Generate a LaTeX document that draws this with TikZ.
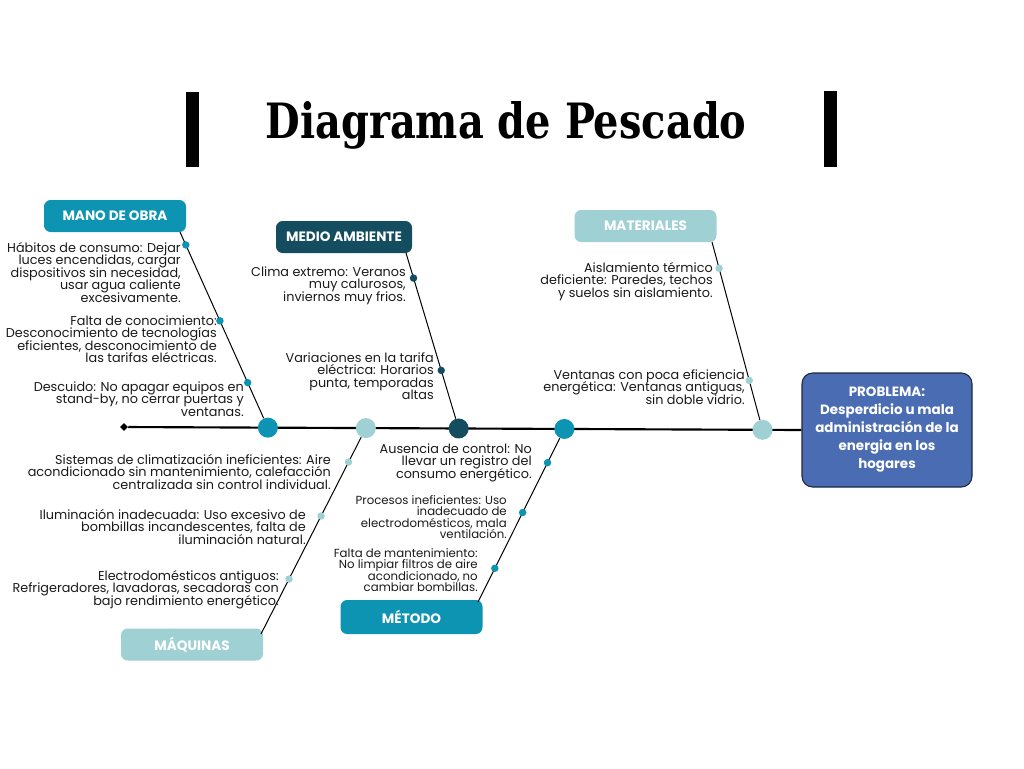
\documentclass[tikz,border=0pt]{standalone}
\usepackage{fontspec}
\setmainfont{Poppins}
\newfontfamily\titlefont[FakeStretch=0.82]{DejaVu Serif}
\usetikzlibrary{calc,shapes.geometric}
\definecolor{teal}{RGB}{12,148,178}
\definecolor{darkteal}{RGB}{20,76,96}
\definecolor{lightteal}{RGB}{158,208,212}
\definecolor{problue}{RGB}{74,108,178}
\definecolor{txtcol}{RGB}{25,25,25}
\newcommand\tightlines{\lineskiplimit=-20pt\relax\lineskip=0pt\relax}
\begin{document}
\begin{tikzpicture}[x=0.75pt,y=-0.75pt,
  hdr/.style={rounded corners=5pt, minimum width=106.5pt, minimum height=24pt, inner sep=0pt, text=white, font=\bfseries\fontsize{10.2}{11}\selectfont},
  txt/.style={align=right, inner sep=0pt, anchor=north east, text=txtcol, font=\fontsize{9.6}{9.4}\selectfont\tightlines},
  stxt/.style={txt, font=\fontsize{8.8}{8.6}\selectfont\tightlines},
  bigdot/.style={circle, minimum size=15pt, inner sep=0pt},
  smalldot/.style={circle, minimum size=5.6pt, inner sep=0pt},
  spine/.style={line width=1.6pt, black},
  bone/.style={line width=0.75pt, black}]
\useasboundingbox (0,0) rectangle (1024,768);
% title
\node[font=\titlefont\bfseries\fontsize{36.5}{37}\selectfont] (title) at (506,125) {Diagrama de Pescado};
\fill (186,92) rectangle (199,167);
\fill (824,91) rectangle (837,167);
% problem and spine
\node[draw={rgb,255:red,30;green,40;blue,60}, line width=0.8pt, fill=problue, rounded corners=8pt, minimum width=127.5pt, minimum height=85.5pt, align=center, text=white, font=\bfseries\fontsize{10.1}{13.5}\selectfont] (prob) at (887,430) {PROBLEMA:\\Desperdicio u mala\\administración de la\\energia en los\\hogares};
\node[diamond, fill=black, minimum size=6pt, inner sep=0pt] (tail) at (124,427) {};
\draw[spine] (tail) -- (prob.west);
\node[bigdot, fill=teal] (c1) at ($(tail)!0.2124!(prob.west)$) {};
\node[bigdot, fill=lightteal] (c2) at ($(tail)!0.357!(prob.west)$) {};
\node[bigdot, fill=darkteal] (c3) at ($(tail)!0.494!(prob.west)$) {};
\node[bigdot, fill=teal] (c4) at ($(tail)!0.65!(prob.west)$) {};
\node[bigdot, fill=lightteal] (c5) at ($(tail)!0.9425!(prob.west)$) {};
% headers
\node[hdr, fill=teal] (mob) at (115,216) {MANO DE OBRA};
\node[hdr, fill=darkteal, minimum width=102pt] (med) at (344,237) {MEDIO AMBIENTE};
\node[hdr, fill=lightteal] (mat) at (645.5,226) {MATERIALES};
\node[hdr, fill=lightteal] (maq) at (192,644.5) {MÁQUINAS};
\node[hdr, fill=teal, minimum height=25.5pt] (met) at (411.5,617) {MÉTODO};
% bone ends at headers
\coordinate (mobE) at (180,232);
\coordinate (medE) at (406,253);
\coordinate (matE) at (712,242);
\coordinate (maqE) at (261,634);
\coordinate (metE) at (478,602);
\draw[bone] (mobE) -- (c1);
\draw[bone] (medE) -- (c3);
\draw[bone] (matE) -- (c5);
\draw[bone] (c2) -- (maqE);
\draw[bone] (c4) -- (metE);
% dots
\node[smalldot, fill=teal] (d1) at ($(mobE)!0.066!(c1)$) {};
\node[smalldot, fill=teal] (d2) at ($(mobE)!0.454!(c1)$) {};
\node[smalldot, fill=teal] (d3) at ($(mobE)!0.77!(c1)$) {};
\node[smalldot, fill=darkteal] (d4) at ($(medE)!0.143!(c3)$) {};
\node[smalldot, fill=darkteal] (d5) at ($(medE)!0.669!(c3)$) {};
\node[smalldot, fill=lightteal] (d6) at ($(matE)!0.14!(c5)$) {};
\node[smalldot, fill=lightteal] (d7) at ($(matE)!0.737!(c5)$) {};
\node[smalldot, fill=lightteal] (d8) at ($(c2)!0.165!(maqE)$) {};
\node[smalldot, fill=lightteal] (d9) at ($(c2)!0.427!(maqE)$) {};
\node[smalldot, fill=lightteal] (d10) at ($(c2)!0.733!(maqE)$) {};
\node[smalldot, fill=teal] (d11) at ($(c4)!0.195!(metE)$) {};
\node[smalldot, fill=teal] (d12) at ($(c4)!0.483!(metE)$) {};
\node[smalldot, fill=teal] (d13) at ($(c4)!0.805!(metE)$) {};
% texts
\node[txt] (t1) at (181,242) {Hábitos de consumo: Dejar\\luces encendidas, cargar\\dispositivos sin necesidad,\\usar agua caliente\\excesivamente.};
\node[txt] (t2) at (217,315) {Falta de conocimiento:\\Desconocimiento de tecnologías\\eficientes, desconocimiento de\\las tarifas eléctricas.};
\node[txt] (t3) at (244,381) {Descuido: No apagar equipos en\\stand-by, no cerrar puertas y\\ventanas.};
\node[txt] (t4) at (406,266) {Clima extremo: Veranos\\muy calurosos,\\inviernos muy frios.};
\node[txt] (t5) at (434,352) {Variaciones en la tarifa\\eléctrica: Horarios\\punta, temporadas\\altas};
\node[txt] (t6) at (713,262) {Aislamiento térmico\\deficiente: Paredes, techos\\y suelos sin aislamiento.};
\node[txt] (t7) at (745,369) {Ventanas con poca eficiencia\\energética: Ventanas antiguas,\\sin doble vidrio.};
\node[txt] (t8) at (331,454) {Sistemas de climatización ineficientes: Aire\\acondicionado sin mantenimiento, calefacción\\centralizada sin control individual.};
\node[txt] (t9) at (306,509) {Iluminación inadecuada: Uso excesivo de\\bombillas incandescentes, falta de\\iluminación natural.};
\node[txt] (t10) at (279,570) {Electrodomésticos antiguos:\\Refrigeradores, lavadoras, secadoras con\\bajo rendimiento energético.};
\node[txt] (t11) at (532,443) {Ausencia de control: No\\llevar un registro del\\consumo energético.};
\node[stxt] (t12) at (507,495) {Procesos ineficientes: Uso\\inadecuado de\\electrodomésticos, mala\\ventilación.};
\node[stxt] (t13) at (478,548) {Falta de mantenimiento:\\No limpiar filtros de aire\\acondicionado, no\\cambiar bombillas.};
\end{tikzpicture}
\end{document}
